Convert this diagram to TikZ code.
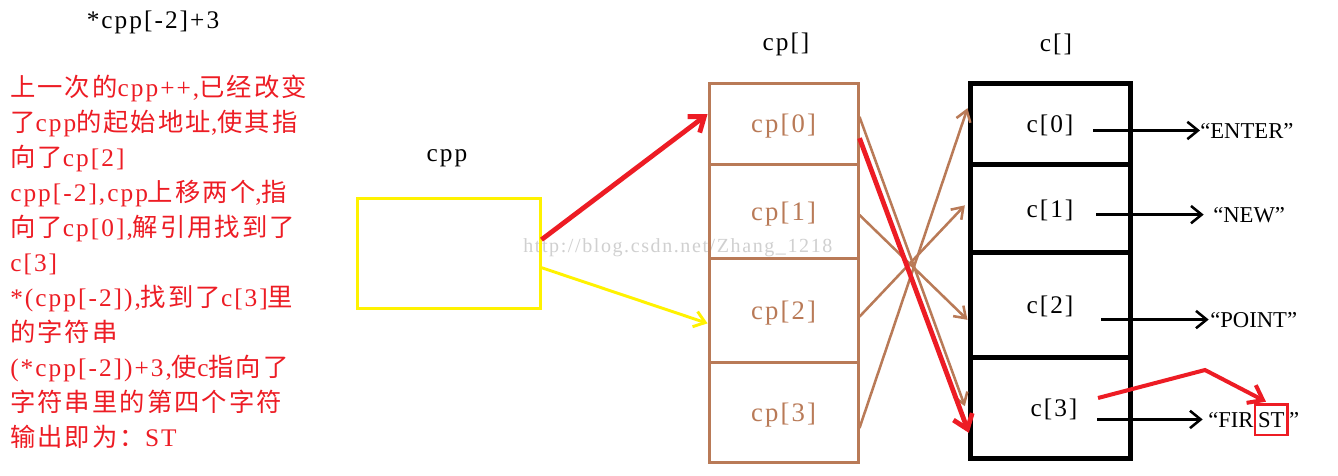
\documentclass[tikz,border=0pt]{standalone}
\usepackage{fontspec}
\setmainfont{Liberation Serif}[LetterSpace=8]
\newfontfamily\cjk{Noto Sans CJK SC}[LetterSpace=8]
\newfontfamily\strfont{Liberation Serif}
\usetikzlibrary{arrows.meta}
\definecolor{pred}{RGB}{237,28,36}
\definecolor{pbrown}{RGB}{185,122,87}
\definecolor{pyellow}{RGB}{255,242,0}
\definecolor{wmgray}{RGB}{208,208,208}
\newcommand\zh[1]{{\cjk #1}}
\begin{document}
\begin{tikzpicture}[x=0.75pt,y=-0.75pt,
  cpcell/.style={draw=pbrown,line width=2.25pt,minimum width=111.75pt,inner sep=0pt,
    text=pbrown,text height=14pt,text depth=0pt,font=\fontsize{20}{24}\selectfont},
  ccell/.style={draw=black,line width=3.75pt,minimum width=120pt,inner sep=0pt,
    text height=14pt,text depth=0pt,font=\fontsize{19}{23}\selectfont},
  strnode/.style={inner sep=0pt,anchor=base west,font=\strfont\fontsize{17}{20}\selectfont},
  lbl/.style={inner sep=0pt,font=\fontsize{19}{23}\selectfont},
  brownarr/.style={draw=pbrown,line width=1.9pt,-{Straight Barb[length=8pt,width=11pt]}},
  redarr/.style={draw=pred,line width=3.6pt,-{Straight Barb[length=10pt,width=15pt]}},
  blackarr/.style={draw=black,line width=1.9pt,-{Straight Barb[length=8pt,width=13pt]}},
  yelarr/.style={draw=pyellow,line width=2.2pt,-{Straight Barb[length=8pt,width=12pt]}},
  note/.style={inner sep=0pt,align=left,text=pred,font=\fontsize{19}{26.25}\selectfont}]
\useasboundingbox[fill=white] (0,0) rectangle (1338,475);

% watermark
\node[inner sep=0pt,anchor=west,text=wmgray,font=\fontsize{15}{18}\selectfont] (wm) at (523,248) {http://blog.csdn.net/Zhang\_1218};

% title and notes
\node[lbl] (title) at (153,22) {*cpp[-2]+3};
\node[note,anchor=north west] (note) at (10,75) {%
\zh{上一次的}cpp++,\zh{已经改变}\\
\zh{了}cpp\zh{的起始地址},\zh{使其指}\\
\zh{向了}cp[2]\\
cpp[-2],cpp\zh{上移两个},\zh{指}\\
\zh{向了}cp[0],\zh{解引用找到了}\\
c[3]\\
*(cpp[-2]),\zh{找到了}c[3]\zh{里}\\
\zh{的字符串}\\
(*cpp[-2])+3,\zh{使}c\zh{指向了}\\
\zh{字符串里的第四个字符}\\
\zh{输出即为：}ST};

% headers
\node[lbl] (cpplbl) at (447,158) {cpp};
\node[lbl] (cplbl) at (786,44) {cp[]};
\node[lbl] (clbl) at (1056,44) {c[]};

% cpp box
\node[draw=pyellow,line width=2.25pt,minimum width=137.25pt,minimum height=82.5pt,inner sep=0pt] (cpp) at (448.5,253) {};

% cp column
\node[cpcell,minimum height=60.75pt] (cp0) at (783.5,123.5) {cp[0]};
\node[cpcell,minimum height=70.5pt] (cp1) at (783.5,211) {cp[1]};
\node[cpcell,minimum height=78pt] (cp2) at (783.5,310) {cp[2]};
\node[cpcell,minimum height=75pt] (cp3) at (783.5,412) {cp[3]};

% c column
\node[ccell,minimum height=60.75pt] (c0) at (1050,123.5) {c[0]};
\node[ccell,minimum height=66pt] (c1) at (1050,208) {c[1]};
\node[ccell,minimum height=78.75pt] (c2) at (1050,304.5) {c[2]};
\node[ccell,minimum height=75.75pt] (c3) at (1050,407.5) {\hspace{6pt}c[3]};

% strings
\node[strnode] (s0) at (1200,138) {“ENTER”};
\node[strnode] (s1) at (1213,222) {“NEW”};
\node[strnode] (s2) at (1210,327) {“POINT”};
\node[strnode] (s3a) at (1208,427) {“FIR};
\node[strnode,draw=pred,line width=1.9pt,inner xsep=2.2pt,minimum height=23pt] (s3b) at (s3a.base east) {ST};
\node[strnode] (s3c) at (s3b.base east) {”};

% start points of string arrows
\coordinate (a0) at (1093,0 |- s0.west);
\coordinate (a1) at (1096,0 |- s1.west);
\coordinate (a2) at (1101,0 |- s2.west);
\coordinate (a3) at (1097,0 |- s3a.west);
\draw[blackarr] (a0) -- (s0.west);
\draw[blackarr] (a1) -- ([xshift=-7pt]s1.west);
\draw[blackarr] (a2) -- ([xshift=-1pt]s2.west);
\draw[blackarr] (a3) -- ([xshift=-4pt]s3a.west);

% brown cross arrows
\draw[brownarr] ([yshift=-12pt]cp3.east) -- ([yshift=11.5pt]c0.west);
\draw[brownarr] ([yshift=-5pt]cp2.east) -- ([xshift=-2pt,yshift=2pt]c1.west);
\draw[brownarr] ([yshift=-3pt]cp1.east) -- ([yshift=-11.5pt]c2.west);
\draw[brownarr] ([yshift=5pt]cp0.east) -- ([xshift=-2pt,yshift=1pt]c3.west);

% red and yellow arrows
\draw[redarr] ([yshift=10pt]cpp.east) -- ([yshift=7pt]cp0.west);
\draw[yelarr] ([yshift=-11pt]cpp.east) -- ([yshift=-10pt]cp2.west);
\draw[redarr] ([yshift=-11pt]cp0.east) -- ([xshift=1pt,yshift=-19pt]c3.west);
\coordinate (r0) at (1098,398);
\coordinate (r1) at (1205,370);
\draw[redarr,line width=3pt] (r0) -- (r1) -- ([xshift=-4pt,yshift=1pt]s3b.north);
\end{tikzpicture}
\end{document}
